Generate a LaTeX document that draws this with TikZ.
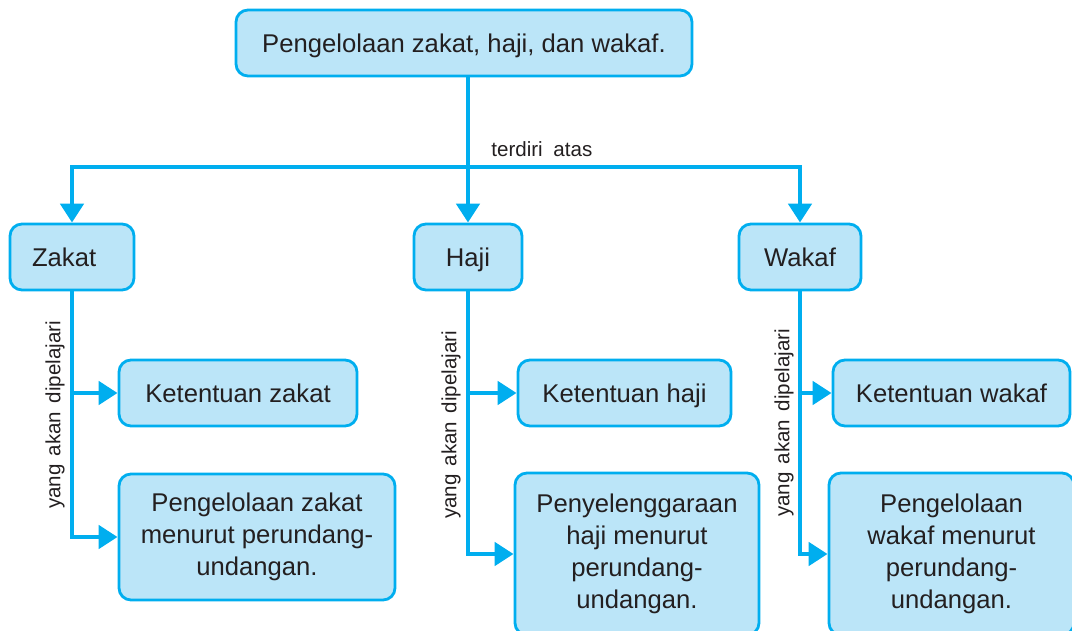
\documentclass[tikz,border=0pt]{standalone}
\usepackage{fontspec}
\setmainfont{Liberation Sans}
\usetikzlibrary{arrows.meta}
\definecolor{boxfill}{RGB}{187,229,248}
\definecolor{cyanline}{RGB}{0,174,239}
\definecolor{inktext}{RGB}{35,31,32}

\begin{document}
\begin{tikzpicture}[
  box/.style={draw=cyanline, fill=boxfill, line width=1.6pt, rounded corners=0.24cm, text=inktext, font=\fontsize{14.6}{18.2}\selectfont, align=center, inner sep=0pt, minimum height=1.32cm},
  onebox/.style={box, text height=0.37cm, text depth=0pt},
  link/.style={draw=cyanline, line width=2.8pt, -{Triangle[width=0.46cm,length=0.38cm]}},
  note/.style={text=inktext, font=\fontsize{11.7}{14}\selectfont, inner sep=0pt}
]

\useasboundingbox (0,0) rectangle (21.44,12.6);

\node[onebox, minimum width=9.12cm] (main) at (9.28,11.74) {Pengelolaan zakat, haji, dan wakaf.};

\node[onebox, minimum width=2.48cm, text width=1.6cm, align=left] (zakat) at (1.44,7.46) {Zakat};
\node[onebox, minimum width=2.16cm] (haji) at (9.36,7.46) {Haji};
\node[onebox, minimum width=2.44cm] (wakaf) at (16.0,7.46) {Wakaf};

\node[onebox, minimum width=4.76cm] (kzakat) at (4.76,4.74) {Ketentuan zakat};
\node[onebox, minimum width=4.26cm] (khaji) at (12.49,4.74) {Ketentuan haji};
\node[onebox, minimum width=4.74cm] (kwakaf) at (19.03,4.74) {Ketentuan wakaf};

\node[box, minimum width=5.52cm, minimum height=2.52cm] (pzakat) at (5.14,1.86) {Pengelolaan zakat\\menurut perundang-\\undangan.};
\node[box, minimum width=4.88cm, minimum height=3.24cm] (phaji) at (12.74,1.52) {Penyelenggaraan\\haji menurut\\perundang-\\undangan.};
\node[box, minimum width=4.9cm, minimum height=3.24cm] (pwakaf) at (19.03,1.52) {Pengelolaan\\wakaf menurut\\perundang-\\undangan.};

\coordinate (bar) at (9.36,9.26);

\draw[link] (haji.north |- main.south) -- (haji.north);
\draw[link] (bar) -| (zakat.north);
\draw[link] (bar) -| (wakaf.north);

\node[note, anchor=base west] (terdiri) at (9.82,9.48) {terdiri\hspace{0.1cm} atas};

\draw[link] (zakat.south) |- (pzakat.west);
\draw[link] (zakat.south |- kzakat.west) -- (kzakat.west);
\draw[link] (haji.south) |- (phaji.west);
\draw[link] (haji.south |- khaji.west) -- (khaji.west);
\draw[link] (wakaf.south) |- (pwakaf.west);
\draw[link] (wakaf.south |- kwakaf.west) -- (kwakaf.west);

\node[note, rotate=90] (lzakat) at (1.10,4.30) {yang\hspace{0.05cm} akan\hspace{0.05cm} dipelajari};
\node[note, rotate=90] (lhaji) at (9.02,4.10) {yang\hspace{0.05cm} akan\hspace{0.05cm} dipelajari};
\node[note, rotate=90] (lwakaf) at (15.68,4.14) {yang\hspace{0.05cm} akan\hspace{0.05cm} dipelajari};

\end{tikzpicture}
\end{document}
